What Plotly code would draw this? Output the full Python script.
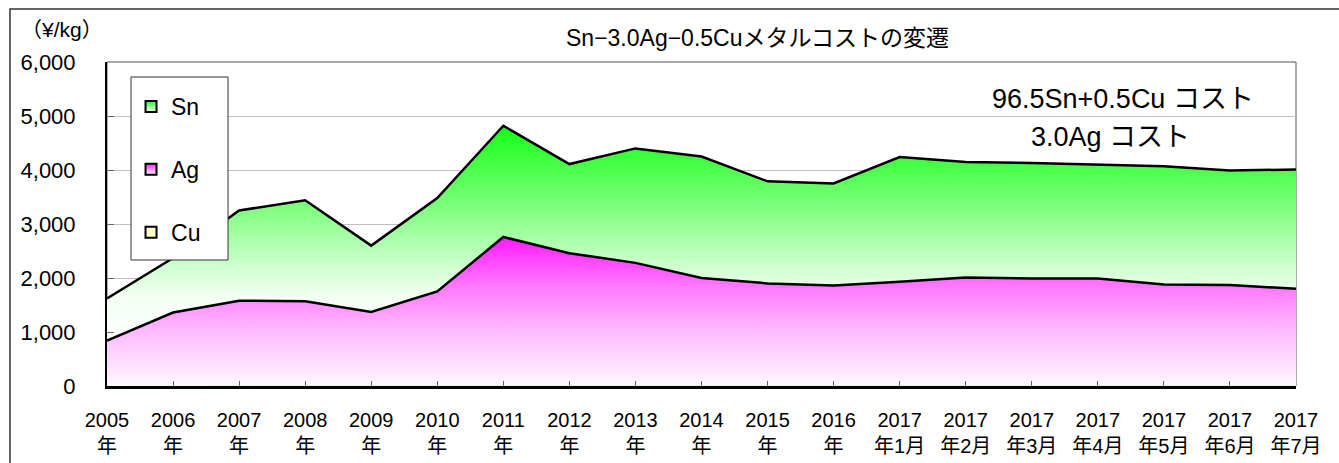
import plotly.graph_objects as go

# Categories (years, then the 2017 months)
categories = [
    "2005<br>年", "2006<br>年", "2007<br>年", "2008<br>年", "2009<br>年",
    "2010<br>年", "2011<br>年", "2012<br>年", "2013<br>年", "2014<br>年",
    "2015<br>年", "2016<br>年", "2017<br>年1月", "2017<br>年2月", "2017<br>年3月",
    "2017<br>年4月", "2017<br>年5月", "2017<br>年6月", "2017<br>年7月",
]

# Metal cost per kg of Sn-3.0Ag-0.5Cu alloy, split by element (¥/kg)
cu_cost = [2, 4, 4, 4, 3, 4, 4, 4, 4, 3, 3, 3, 3, 3, 3, 3, 3, 3, 3]
ag_cost = [838, 1356, 1576, 1566, 1367, 1746, 2756, 2456, 2276, 1997,
           1897, 1857, 1927, 2007, 1987, 1987, 1877, 1867, 1797]
sn_cost = [780, 1010, 1670, 1870, 1230, 1730, 2060, 1650, 2120, 2250,
           1890, 1890, 2310, 2140, 2140, 2110, 2190, 2120, 2210]

y_ticks = [0, 1000, 2000, 3000, 4000, 5000, 6000]

FONT = "Liberation Sans, Arial, Noto Sans CJK JP"
JP_FONT = "Liberation Sans, Noto Sans CJK JP"

green_scale = [[0, "#ffffff"], [0.2, "#f4fff4"], [0.37, "#c8ffc8"],
               [0.6, "#84ff84"], [0.88, "#36ff36"], [1, "#14ff14"]]
pink_scale = [[0, "#fff8ff"], [0.4, "#ffb4ff"], [0.7, "#ff70ff"],
              [1, "#ff1aff"]]

fig = go.Figure()

# Stacked areas: Cu at the bottom, Ag above, Sn on top
fig.add_trace(go.Scatter(
    x=categories, y=cu_cost, stackgroup="cost", mode="lines",
    line=dict(color="black", width=0), fillcolor="#ffffcc",
    showlegend=False, hoverinfo="skip"))
fig.add_trace(go.Scatter(
    x=categories, y=ag_cost, stackgroup="cost", mode="lines",
    line=dict(color="black", width=2.5),
    fillgradient=dict(type="vertical", colorscale=pink_scale),
    showlegend=False, hoverinfo="skip"))
fig.add_trace(go.Scatter(
    x=categories, y=sn_cost, stackgroup="cost", mode="lines",
    line=dict(color="black", width=2.5),
    fillgradient=dict(type="vertical", colorscale=green_scale),
    showlegend=False, hoverinfo="skip"))

# Legend swatches
for name, col, grad in [("Sn", "#22ff22", "#ffffff"),
                        ("Ag", "#ff22ff", "#ffffff"),
                        ("Cu", "#ffffc8", "#ffffc8")]:
    fig.add_trace(go.Scatter(
        x=[None], y=[None], mode="markers", name=name, legendgroup=name,
        marker=dict(symbol="square", size=11, color=col,
                    gradient=dict(type="vertical", color=grad),
                    line=dict(color="black", width=2))))

fig.update_layout(
    width=1339, height=463,
    margin=dict(l=107, r=43, t=62, b=77),
    paper_bgcolor="white", plot_bgcolor="white",
    font=dict(family=FONT, color="black"),
    showlegend=True,
    legend=dict(
        x=0.0202, y=0.929, xanchor="left", yanchor="top",
        bgcolor="rgba(0,0,0,0)", borderwidth=0,
        font=dict(family=FONT, size=23),
        traceorder="grouped", tracegroupgap=30,
    ),
    xaxis=dict(
        type="category", range=[0, len(categories) - 1], automargin=False,
        showgrid=False, showline=True, linecolor="black", linewidth=3,
        ticks="inside", ticklen=5, tickcolor="#666666",
        tickfont=dict(family=JP_FONT, size=20),
        ticklabelstandoff=14,
    ),
    yaxis=dict(
        range=[0, 6000], tickvals=y_ticks, tickformat=",", automargin=False,
        showgrid=True, gridcolor="#c0c0c0", gridwidth=1, zeroline=False,
        showline=True, linecolor="black", linewidth=2,
        ticks="inside", ticklen=7, tickcolor="#666666",
        tickfont=dict(family=FONT, size=22),
        ticklabelstandoff=25,
    ),
    shapes=[
        # plot-area frame
        dict(type="rect", xref="paper", yref="paper", x0=0, x1=1, y0=0, y1=1,
             line=dict(color="#555555", width=1), layer="below"),
        # legend box
        dict(type="rect", xref="paper", yref="paper",
             x0=0.0202, x1=0.1018, y0=0.3889, y1=0.9537,
             fillcolor="white", line=dict(color="#333333", width=1)),
        # outer chart border
        dict(type="rect", xref="paper", yref="paper",
             x0=-0.0816, x1=1.045, y0=-0.27, y1=1.1636,
             line=dict(color="#333333", width=1.5)),
    ],
    annotations=[
        dict(text="Sn−3.0Ag−0.5Cuメタルコストの変遷", xref="paper", yref="paper",
             x=0.5467, y=1.074, xanchor="center", yanchor="middle",
             showarrow=False, font=dict(family=JP_FONT, size=23)),
        dict(text="（¥/kg）", xref="paper", yref="paper",
             x=-0.074, y=1.099, xanchor="left", yanchor="middle",
             showarrow=False, font=dict(family=JP_FONT, size=21)),
        dict(text="96.5Sn+0.5Cu コスト", xref="paper", yref="paper",
             x=0.8545, y=0.886, xanchor="center", yanchor="middle",
             showarrow=False, font=dict(family=JP_FONT, size=27)),
        dict(text="3.0Ag コスト", xref="paper", yref="paper",
             x=0.8436, y=0.7685, xanchor="center", yanchor="middle",
             showarrow=False, font=dict(family=JP_FONT, size=27)),
    ],
)

fig.write_html("out.html")
